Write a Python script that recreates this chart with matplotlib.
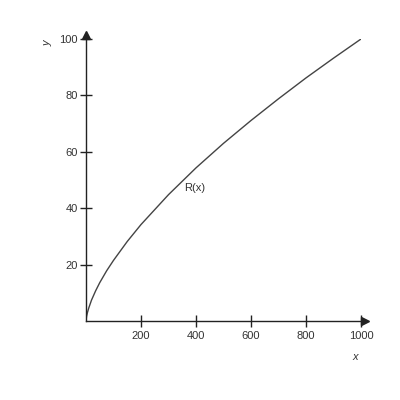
import numpy as np
import matplotlib
matplotlib.use('Agg')
import matplotlib.pyplot as plt

plt.rcParams['font.family'] = ['Liberation Sans', 'DejaVu Sans']

x_vals = [0, 2, 5, 10, 20, 35, 50, 75, 100, 150, 200, 300, 400, 500, 600, 700, 800, 900, 1000]
r_vals = [0, 1.6, 2.9, 4.6, 7.4, 10.7, 13.6, 17.8, 21.5, 28.2, 34.2, 44.8, 54.3, 63.0, 71.1, 78.8, 86.2, 93.2, 100]
x_ticks = [200, 400, 600, 800, 1000]
y_ticks = [20, 40, 60, 80, 100]

fig = plt.figure(figsize=(4, 4), dpi=100)
ax = fig.add_axes([86/400, 79/400, 275/400, 282/400])

axis_col = '#222222'
ax.plot(x_vals, r_vals, color='#444444', lw=1.0)

ax.set_xlim(0, 1000)
ax.set_ylim(0, 100)
for s in ['top', 'right']:
	ax.spines[s].set_visible(False)
for s in ['left', 'bottom']:
	ax.spines[s].set_color(axis_col)
	ax.spines[s].set_linewidth(1.0)

# arrow heads
ax.plot([1014], [0], marker='>', color=axis_col, markersize=6, clip_on=False)
ax.plot([0], [101.5], marker='^', color=axis_col, markersize=6, clip_on=False)

ax.set_xticks(x_ticks)
ax.set_yticks(y_ticks)
ax.tick_params(direction='inout', length=8, width=1.0, color=axis_col,
	labelsize=8, labelcolor='#333333')
ax.tick_params(axis='x', pad=3)
ax.tick_params(axis='y', pad=2)

fig.text(48/400, 1 - 43/400, 'y', rotation=90, fontsize=8, style='italic',
	color='#333333', ha='center', va='center')
fig.text(355/400, 1 - 357/400, 'x', fontsize=8, style='italic',
	color='#333333', ha='center', va='center')
ax.text(396, 47, 'R(x)', fontsize=8, color='#333333', ha='center', va='center')

fig.savefig('out.png', dpi=100)
